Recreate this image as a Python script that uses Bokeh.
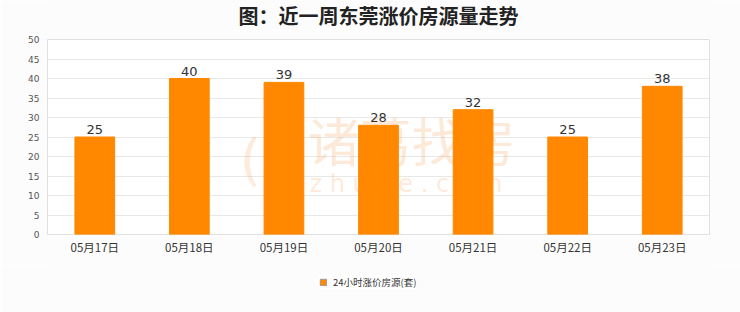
from bokeh.plotting import figure
from bokeh.layouts import column
from bokeh.models import ColumnDataSource, Legend, LegendItem, Label, FixedTicker, Range1d, FactorRange
from bokeh.core.properties import value
from bokeh.embed import file_html
from bokeh.resources import INLINE

title_text = "图：近一周东莞涨价房源量走势"
dates = ["05月17日", "05月18日", "05月19日", "05月20日", "05月21日", "05月22日", "05月23日"]
values = [25, 40, 39, 28, 32, 25, 38]
series_name = "24小时涨价房源(套)"
y_ticks = [0, 5, 10, 15, 20, 25, 30, 35, 40, 45, 50]

CJK = "Noto Sans CJK SC"
BAR = "#FF8800"
BG = "#FCFCFC"


def blank(height):
    f = figure(width=740, height=height, x_range=Range1d(0, 1), y_range=Range1d(0, 1),
               x_axis_location=None, y_axis_location=None, output_backend="svg",
               toolbar_location=None, min_border=0)
    f.outline_line_color = None
    f.background_fill_color = BG
    f.border_fill_color = BG
    f.grid.visible = False
    return f


# header with title
header = blank(30)
header.add_layout(Label(x=0.5, y=0.5, text=title_text, text_align="center", text_baseline="middle",
                        text_font=CJK, text_font_size="20px", text_font_style="bold",
                        text_color="#222222"))

# main chart
src = ColumnDataSource(dict(x=dates, y=values, lab=[str(v) for v in values]))

p = figure(width=740, height=234, x_range=FactorRange(*dates, range_padding=0),
           y_range=Range1d(0, 50), output_backend="svg", toolbar_location=None,
           min_border_left=47, min_border_right=31, min_border_top=9, min_border_bottom=30)
p.background_fill_color = "white"
p.border_fill_color = BG
p.outline_line_color = "#E0E0E0"
p.outline_line_width = 1

# watermark (behind bars)
p.add_layout(Label(x=260, y=58, x_units="screen", y_units="screen", text="诸葛找房",
                   text_font=CJK, text_font_size="52px", text_color="#F6A25A", text_alpha=0.24,
                   level="underlay"))
p.add_layout(Label(x=262, y=37, x_units="screen", y_units="screen", text="z h u g e . c o m",
                   text_font="DejaVu Sans", text_font_size="24px", text_color="#F6A25A", text_alpha=0.24,
                   level="underlay"))
p.add_layout(Label(x=192, y=43, x_units="screen", y_units="screen", text="(((",
                   text_font="DejaVu Sans", text_font_size="56px", text_color="#F6A25A", text_alpha=0.2,
                   level="underlay"))

r = p.vbar(x="x", top="y", width=0.42, source=src, fill_color=BAR, line_color=BAR)
p.text(x="x", y="y", text="lab", source=src, text_align="center", text_baseline="bottom",
       y_offset=-3, text_font=value("DejaVu Sans"), text_font_size="13px", text_color="#333333")

p.xaxis.axis_line_color = None
p.xaxis.major_tick_line_color = None
p.xaxis.minor_tick_line_color = None
p.xaxis.major_tick_out = 0
p.xaxis.major_label_text_font = CJK
p.xaxis.major_label_text_font_size = "11.5px"
p.xaxis.major_label_text_color = "#333333"
p.xaxis.major_label_standoff = 4

p.yaxis.ticker = FixedTicker(ticks=y_ticks)
p.yaxis.axis_line_color = None
p.yaxis.major_tick_line_color = None
p.yaxis.minor_tick_line_color = None
p.yaxis.major_tick_out = 0
p.yaxis.major_label_text_font = "DejaVu Sans"
p.yaxis.major_label_text_font_size = "9px"
p.yaxis.major_label_text_color = "#555555"
p.yaxis.major_label_standoff = 8

p.xgrid.grid_line_color = None
p.ygrid.grid_line_color = "#E8E8E8"

# footer with legend (legend swatch from an off-range copy of the series style)
footer = blank(48)
lr = footer.vbar(x=[-5], top=[-5], width=0.5, fill_color=BAR, line_color="#999999")
legend = Legend(items=[LegendItem(label=series_name, renderers=[lr])], orientation="horizontal",
                location=(272, 23), label_text_font=CJK, label_text_font_size="9.5px",
                label_text_color="#333333", glyph_width=8, glyph_height=8, label_standoff=6,
                background_fill_color="white", border_line_color=None, padding=3, margin=0,
                label_height=10, spacing=0)
footer.add_layout(legend, "center")

layout = column(header, p, footer, spacing=0)
open("out.html", "w").write(file_html(layout, INLINE))
